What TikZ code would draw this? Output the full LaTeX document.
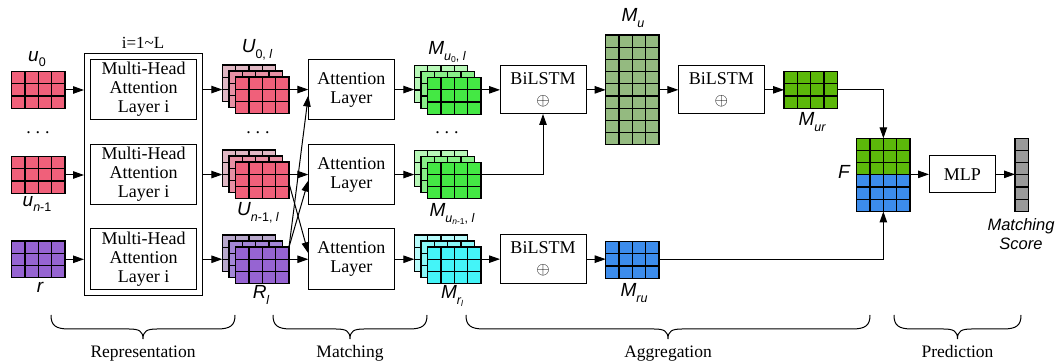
\documentclass[tikz,border=0pt]{standalone}
\usepackage{fontspec}
\setmainfont{Liberation Serif}
\newfontfamily\labfont{Liberation Sans}
\usetikzlibrary{arrows.meta,calc}

\definecolor{ured}{HTML}{F0607A}
\definecolor{upinkA}{HTML}{E0B8C4}
\definecolor{upinkB}{HTML}{E890A4}
\definecolor{rpur}{HTML}{9664D2}
\definecolor{rpurA}{HTML}{B8A8CC}
\definecolor{rpurB}{HTML}{A486D8}
\definecolor{mgr}{HTML}{44E844}
\definecolor{mgrA}{HTML}{B8F8B8}
\definecolor{mgrB}{HTML}{88F088}
\definecolor{mcy}{HTML}{44F4F8}
\definecolor{mcyA}{HTML}{B8FCFC}
\definecolor{mcyB}{HTML}{88F8F8}
\definecolor{musage}{HTML}{94BA80}
\definecolor{murgreen}{HTML}{5CB80A}
\definecolor{rublue}{HTML}{3C8CEC}
\definecolor{scoregray}{HTML}{9A9A9A}

\tikzset{
  gridbox/.style={draw=black, line width=1.2pt, anchor=north west, inner sep=0pt, outer sep=0pt},
  gridline/.style={black, line width=1.2pt},
  blk/.style={draw=black, line width=1pt, fill=white, inner sep=0pt, outer sep=0pt, align=center,
              font=\fontsize{18}{19}\selectfont, anchor=north west},
  arr/.style={line width=1pt, -{Triangle[length=11pt,width=7.5pt]}},
  ln/.style={line width=1pt},
  lab/.style={font=\labfont\itshape\fontsize{19}{19}\selectfont, inner sep=0pt},
  bracelab/.style={font=\fontsize{17.5}{17.5}\selectfont, inner sep=0pt, anchor=base},
  bracel/.style={line width=1pt},
  dotsl/.style={font=\fontsize{18}{18}\selectfont, inner sep=0pt, anchor=base},
}

\newcommand{\sbx}[1]{\raisebox{-0.3em}{\fontsize{12.5}{12.5}\selectfont #1}}
\newcommand{\ssbx}[1]{\raisebox{-0.2em}{\fontsize{8.5}{8.5}\selectfont #1}}

% name, x, y, cols, rows, fill
\newcommand{\cellmat}[6]{%
  \node[gridbox, fill=#6, minimum width=#4*13.33pt, minimum height=#5*12.2pt] (#1) at (#2,#3) {};
  \draw[gridline, shift={(#2,#3)}, xstep=13.33pt, ystep=12.2pt] (0,#5*12.2) grid (#4*13.33,0);
}
% name, x, y, back, mid, front
\newcommand{\stackmat}[6]{%
  \cellmat{#1b}{#2}{#3}{4}{3}{#4}
  \cellmat{#1m}{#2+6.7}{#3+6}{4}{3}{#5}
  \cellmat{#1}{#2+13.4}{#3+12}{4}{3}{#6}
}
% x1, x2
\newcommand{\bracedraw}[2]{%
  \pgfmathsetmacro\bm{(#1+#2)/2}
  \draw[bracel] (#1,315) .. controls (#1,325) and (#1+4,329) .. (#1+18,329)
     -- (\bm-14,329) .. controls (\bm-4,329) and (\bm,331) .. (\bm,339)
     .. controls (\bm,331) and (\bm+4,329) .. (\bm+14,329)
     -- (#2-18,329) .. controls (#2-4,329) and (#2,325) .. (#2,315);
}

\begin{document}
\begin{tikzpicture}[x=1pt,y=-1pt]
\fill[white] (0,0) rectangle (1058,363);
\useasboundingbox (0,0) rectangle (1058,363);

% ---------- inputs ----------
\cellmat{mu0}{11.7}{71.7}{4}{3}{ured}
\cellmat{mun}{11.7}{156.7}{4}{3}{ured}
\cellmat{mr}{11.7}{241}{4}{3}{rpur}
\node[lab] (lu0) at (37,59) {u\sbx{\upshape 0}};
\node[lab] (lun) at (37,204) {u\sbx{n\upshape -1}};
\node[lab] (lr) at (40,287) {r};
\node[dotsl] (d1) at (38,134) {.\hspace{5pt}.\hspace{5pt}.};

% ---------- representation ----------
\node[blk, minimum width=118.7pt, minimum height=242.4pt] (outer) at (84,53.3) {};
\node[font=\fontsize{17}{17}\selectfont, inner sep=0pt] (iL) at (143,43) {i=1\textasciitilde L};
\node[blk, minimum width=106pt, minimum height=60.5pt] (in1) at (90.7,59.3) {Multi-Head\\Attention\\Layer i};
\node[blk, minimum width=106pt, minimum height=60.5pt] (in2) at (90.7,144.3) {Multi-Head\\Attention\\Layer i};
\node[blk, minimum width=106pt, minimum height=60.5pt] (in3) at (90.7,229) {Multi-Head\\Attention\\Layer i};

\draw[arr] (mu0.east) -- (mu0.east -| outer.west);
\draw[arr] (mun.east) -- (mun.east -| outer.west);
\draw[arr] (mr.east) -- (mr.east -| outer.west);

% ---------- U stacks ----------
\stackmat{U0}{222.3}{65}{upinkA}{upinkB}{ured}
\stackmat{Un}{222.3}{150}{upinkA}{upinkB}{ured}
\stackmat{R}{222.3}{235}{rpurA}{rpurB}{rpur}
\node[lab] (lU0) at (257,50) {U\sbx{\upshape 0, \itshape l}};
\node[lab] (lUn) at (258,213) {U\sbx{n\upshape -1, \itshape l}};
\node[lab] (lR) at (261,295) {R\sbx{l}};
\node[dotsl] (d2) at (258,134) {.\hspace{5pt}.\hspace{5pt}.};

\draw[arr] (in1.east -| outer.east) -- (in1.east -| U0b.west);
\draw[arr] (in2.east -| outer.east) -- (in2.east -| Unb.west);
\draw[arr] (in3.east -| outer.east) -- (in3.east -| Rb.west);

% ---------- matching ----------
\node[blk, minimum width=86pt, minimum height=60.5pt] (att1) at (308.3,59.3) {Attention\\Layer};
\node[blk, minimum width=86pt, minimum height=60.5pt] (att2) at (308.3,144.3) {Attention\\Layer};
\node[blk, minimum width=86pt, minimum height=60.5pt] (att3) at (308.3,229) {Attention\\Layer};

\draw[arr] (U0.east |- att1.west) -- (att1.west);
\draw[arr] (Un.east |- att2.west) -- (att2.west);
\draw[arr] (R.east |- att3.west) -- (att3.west);
\draw[arr] (R.north east) -- ([yshift=-6pt]att1.west);
\draw[arr] (R.north east) -- ([yshift=-6pt]att2.west);
\draw[arr] ([yshift=-3pt]Un.east) -- ([yshift=6pt]att3.west);

% ---------- M stacks ----------
\stackmat{M0}{414.3}{65.7}{mgrA}{mgrB}{mgr}
\stackmat{Mn}{414.3}{150.3}{mgrA}{mgrB}{mgr}
\stackmat{Mr}{414.3}{235}{mcyA}{mcyB}{mcy}
\node[lab] (lM0) at (447,52) {M\sbx{u\ssbx{\upshape 0}\upshape , \itshape l}};
\node[lab] (lMn) at (452,214) {M\sbx{u\ssbx{n\upshape -1}\upshape , \itshape l}};
\node[lab] (lMr) at (452,296) {M\sbx{r\ssbx{l}}};
\node[dotsl] (d3) at (447,134) {.\hspace{5pt}.\hspace{5pt}.};

\draw[arr] (att1.east) -- (att1.east -| M0b.west);
\draw[arr] (att2.east) -- (att2.east -| Mnb.west);
\draw[arr] (att3.east) -- (att3.east -| Mrb.west);

% ---------- aggregation ----------
\node[blk, minimum width=86pt, minimum height=48.3pt] (bil1) at (500,65.7) {BiLSTM\\[2pt]$\oplus$};
\node[blk, minimum width=86pt, minimum height=48.3pt] (bil2) at (678.3,65.7) {BiLSTM\\[2pt]$\oplus$};
\node[blk, minimum width=86pt, minimum height=48.3pt] (bil3) at (500,235) {BiLSTM\\[2pt]$\oplus$};

\cellmat{Mu}{605.7}{35}{4}{9}{musage}
\cellmat{Mur}{784}{71.7}{4}{3}{murgreen}
\cellmat{Mru}{605.7}{241.7}{4}{3}{rublue}
\node[lab] (lMu) at (633,18) {M\sbx{u}};
\node[lab] (lMur) at (812,122) {M\sbx{ur}};
\node[lab] (lMru) at (634,293) {M\sbx{ru}};

\draw[arr] (M0.east |- bil1.west) -- (bil1.west);
\draw[arr] (Mn.east |- att2.east) -- (bil1.south |- att2.east) -- (bil1.south);
\draw[arr] (Mr.east |- bil3.west) -- (bil3.west);
\draw[arr] (bil1.east) -- (bil1.east -| Mu.west);
\draw[arr] (bil2.west -| Mu.east) -- (bil2.west);
\draw[arr] (bil2.east) -- (bil2.east -| Mur.west);
\draw[arr] (bil3.east) -- (bil3.east -| Mru.west);

% ---------- prediction ----------
\node[gridbox, fill=rublue, minimum width=53.32pt, minimum height=73.2pt] (F) at (856.7,138.3) {};
\fill[murgreen] (856.7,138.3) rectangle (910.02,174.9);
\draw[gridline, shift={(856.7,138.3)}, xstep=13.33pt, ystep=12.2pt] (0,73.2) grid (53.32,0);
\draw[gridline] (F.north west) rectangle (F.south east);
\node[lab] (lF) at (844,172) {F};

\node[blk, minimum width=66.7pt, minimum height=36.7pt] (mlp) at (929,156) {MLP};
\cellmat{score}{1015}{138.3}{1}{6}{scoregray}
\node[font=\labfont\itshape\fontsize{16.5}{19}\selectfont, align=center, inner sep=0pt] (ms) at (1021,234) {Matching\\Score};

\draw[arr] (Mur.east) -- (Mur.east -| F.north) -- (F.north);
\draw[arr] (Mru.east) -- (Mru.east -| F.south) -- (F.south);
\draw[arr] (F.east |- mlp.west) -- (mlp.west);
\draw[arr] (mlp.east) -- (mlp.east -| score.west);

% ---------- braces ----------
\bracedraw{51}{235}
\bracedraw{273}{427}
\bracedraw{466}{870}
\bracedraw{894}{1021}
\node[bracelab] (t1) at (143,358) {Representation};
\node[bracelab] (t2) at (350,358) {Matching};
\node[bracelab] (t3) at (668,358) {Aggregation};
\node[bracelab] (t4) at (957.5,358) {Prediction};
\end{tikzpicture}
\end{document}
